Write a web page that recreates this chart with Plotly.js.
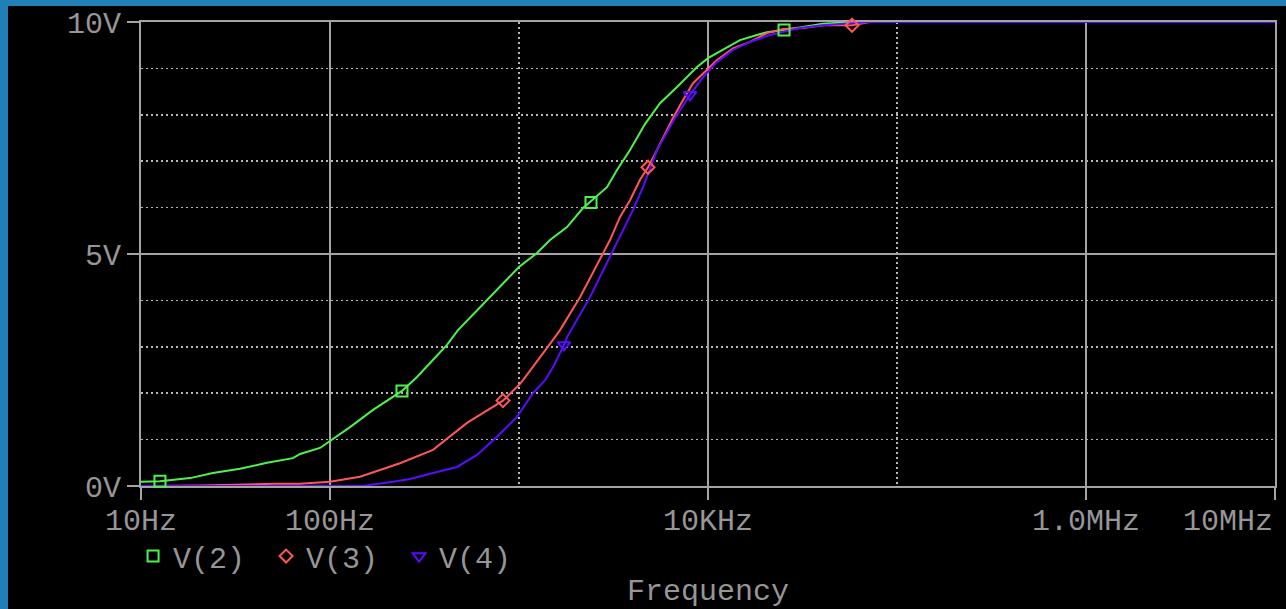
<!DOCTYPE html>
<html>
<head>
<meta charset="utf-8">
<script src="https://cdn.plot.ly/plotly-3.0.1.min.js"></script>
<style>
html, body { margin: 0; padding: 0; background: #1f7fb6; width: 1286px; height: 609px; overflow: hidden; }
#plot { position: absolute; left: 8px; top: 6px; width: 1278px; height: 603px; background: #000; }
</style>
</head>
<body>
<div id="plot"></div>
<script>
// Frequency (Hz) and voltage (V)
const v2Freq = [10, 10.2, 12.6, 18.2, 24, 33.4, 46.4, 63.7, 69.4, 88.5, 100, 127.6, 168.9, 240.4, 288.6, 350.8, 415.9, 475.6, 622, 793.4, 1000, 1245, 1459, 1795, 2181, 2376, 2922, 3300, 3867, 4642, 5572, 6855, 7745, 8747, 10000, 12005, 14766, 18163, 20527, 25250, 29580, 35940, 40600, 56400, 1e7];
const v2Volt = [0.09, 0.09, 0.1, 0.17, 0.28, 0.37, 0.5, 0.6, 0.69, 0.82, 0.97, 1.27, 1.64, 2.05, 2.35, 2.72, 3.04, 3.36, 3.85, 4.29, 4.72, 5.02, 5.3, 5.58, 5.99, 6.12, 6.44, 6.81, 7.24, 7.8, 8.25, 8.6, 8.81, 9.03, 9.22, 9.4, 9.61, 9.72, 9.78, 9.83, 9.87, 9.93, 9.96, 10, 10];

const v3Freq = [10, 20.5, 51.2, 69.4, 100, 144.1, 234.6, 350.8, 530.8, 822.8, 1012, 1050, 1513, 1648, 2103, 2683, 3030, 3423, 3867, 4368, 4815, 5373, 6529, 7376, 8331, 9878, 11157, 13562, 16681, 20527, 24935, 31808, 40600, 57810, 71960, 1e7];
const v3Volt = [0, 0.01, 0.05, 0.05, 0.09, 0.2, 0.49, 0.78, 1.36, 1.84, 2.2, 2.28, 3.15, 3.36, 4.07, 4.87, 5.3, 5.8, 6.16, 6.6, 6.87, 7.24, 7.93, 8.32, 8.68, 8.97, 9.18, 9.43, 9.57, 9.76, 9.85, 9.87, 9.93, 9.93, 10, 10];

const v4Freq = [10, 148.6, 215.4, 265, 350.8, 469.9, 599.5, 764.9, 975.9, 1186, 1373, 1513, 1730, 1795, 2376, 3030, 3551, 4011, 4531, 5373, 6690, 8033, 9408, 11157, 13562, 16681, 21280, 24935, 30680, 40600, 51800, 71960, 1e7];
const v4Volt = [0, 0, 0.09, 0.15, 0.28, 0.41, 0.67, 1.06, 1.49, 2.0, 2.28, 2.56, 3.04, 3.21, 4.07, 4.93, 5.52, 5.95, 6.44, 7.24, 7.93, 8.43, 8.81, 9.14, 9.4, 9.57, 9.72, 9.78, 9.87, 9.93, 9.96, 10, 10];

// Marker points on each trace
const v2MarkFreq = [12.6, 240.4, 2404, 25250];
const v2MarkVolt = [0.1, 2.05, 6.11, 9.83];
const v3MarkFreq = [822.8, 4815, 57810];
const v3MarkVolt = [1.84, 6.87, 9.93];
const v4MarkFreq = [1730, 8033];
const v4MarkVolt = [3.04, 8.43];

const seriesNames = ['V(2)', 'V(3)', 'V(4)'];
const xTickVals = [10, 100, 1e4, 1e6, 1e7];
const xTickText = ['10Hz', '100Hz', '10KHz', '1.0MHz', '10MHz'];
const xMinorVals = [1e3, 1e5];
const yTickVals = [0, 5, 10];
const yTickText = ['0V', '5V', '10V'];
const yMinorVals = [1, 2, 3, 4, 6, 7, 8, 9];
const xTitle = 'Frequency';

const colors = ['#4df24d', '#ff5656', '#5a0cff'];
const symbols = ['square-open', 'diamond-open', 'triangle-down-open'];
const markerSizes = [11, 10, 11];

const lineData = [[v2Freq, v2Volt], [v3Freq, v3Volt], [v4Freq, v4Volt]];
const markData = [[v2MarkFreq, v2MarkVolt], [v3MarkFreq, v3MarkVolt], [v4MarkFreq, v4MarkVolt]];

const traces = [];
lineData.forEach((d, i) => {
  traces.push({
    x: d[0], y: d[1], type: 'scatter', mode: 'lines',
    line: { color: colors[i], width: 2 },
    showlegend: false, hoverinfo: 'skip'
  });
});
markData.forEach((d, i) => {
  traces.push({
    x: d[0], y: d[1], type: 'scatter', mode: 'markers', name: seriesNames[i],
    marker: { symbol: symbols[i], size: markerSizes[i], color: colors[i], line: { color: colors[i], width: 2 } },
    cliponaxis: false
  });
});

const gray = '#a4a4a4';
const txt = '#969696';
const font = { family: '"Liberation Mono", "Courier New", monospace', size: 30, color: txt };

// The last tick label sits right-aligned to the plot edge, as in the reference
const lastIdx = xTickVals.length - 1;
const shownTickText = xTickText.map((t, i) => (i === lastIdx ? '' : t));

const layout = {
  width: 1278, height: 603,
  paper_bgcolor: '#000000', plot_bgcolor: '#000000',
  margin: { l: 133, r: 11, t: 16, b: 123 },
  font: font,
  showlegend: true,
  legend: {
    orientation: 'h', x: -0.007, xanchor: 'left', y: -0.151, yanchor: 'middle',
    font: font, bgcolor: 'rgba(0,0,0,0)', entrywidth: 88, entrywidthmode: 'pixels',
    itemclick: false
  },
  annotations: [{
    text: xTickText[lastIdx], xref: 'x', yref: 'paper',
    x: Math.log10(xTickVals[lastIdx]), y: 0, xanchor: 'right', yanchor: 'top',
    yshift: -17, showarrow: false, font: font
  }],
  xaxis: {
    type: 'log', range: [1, 7],
    tickmode: 'array', tickvals: xTickVals, ticktext: shownTickText,
    ticks: 'outside', ticklen: 12, tickwidth: 2, tickcolor: gray,
    ticklabelstandoff: -6,
    showline: true, linecolor: gray, linewidth: 2, mirror: true,
    showgrid: true, gridcolor: gray, gridwidth: 2,
    zeroline: false, tickfont: font,
    minor: { tickmode: 'array', tickvals: xMinorVals, ticks: '', showgrid: true, gridcolor: '#b8b8b8', gridwidth: 1.5, griddash: '2px,3px' },
    title: { text: xTitle, font: font, standoff: 68 },
    layer: 'below traces', fixedrange: true
  },
  yaxis: {
    range: [0, 10],
    tickmode: 'array', tickvals: yTickVals, ticktext: yTickText,
    ticks: 'outside', ticklen: 12, tickwidth: 2, tickcolor: gray,
    showline: true, linecolor: gray, linewidth: 2, mirror: true,
    showgrid: true, gridcolor: gray, gridwidth: 2,
    zeroline: false, tickfont: font,
    minor: { tickmode: 'array', tickvals: yMinorVals, ticks: '', showgrid: true, gridcolor: '#b8b8b8', gridwidth: 1.5, griddash: '2px,3px' },
    layer: 'below traces', fixedrange: true
  }
};

Plotly.newPlot('plot', traces, layout, { displayModeBar: false, staticPlot: true });
</script>
</body>
</html>
